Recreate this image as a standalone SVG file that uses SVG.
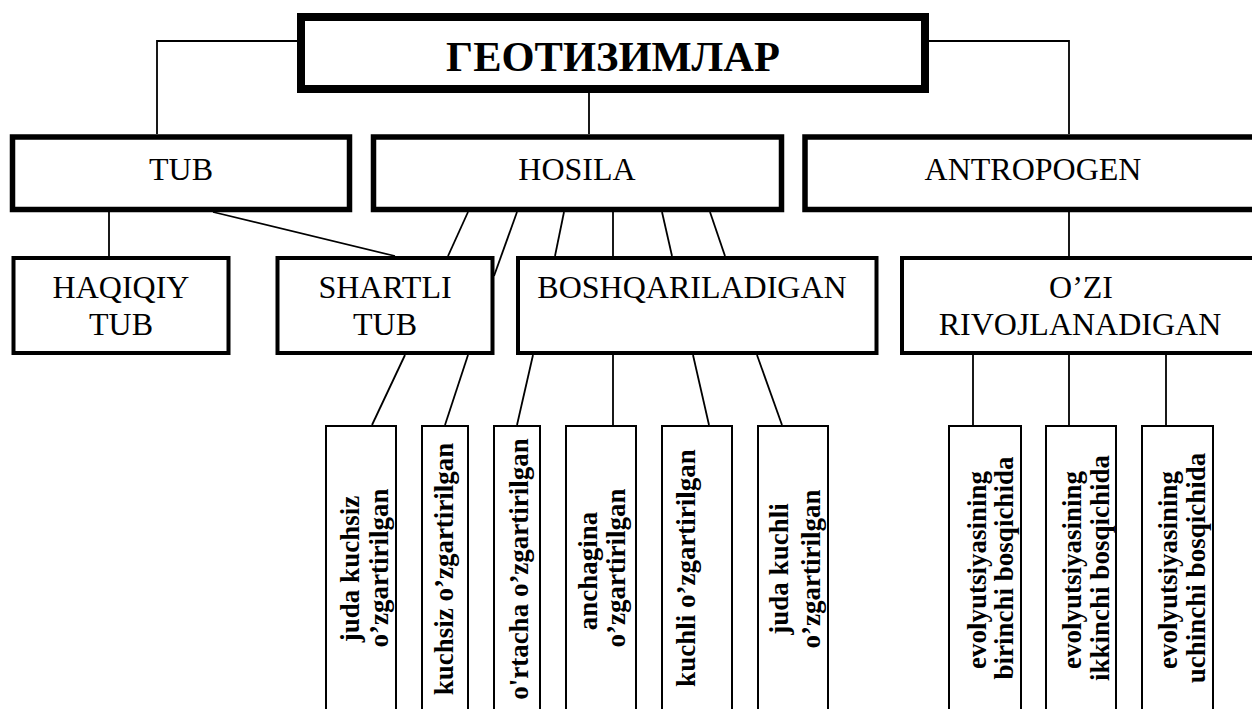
<svg xmlns="http://www.w3.org/2000/svg" width="1252" height="709" viewBox="0 0 1252 709">
<style>
.b{fill:#fff;stroke:#000}
.t1{stroke-width:8}
.t2{stroke-width:5.5}
.t3{stroke-width:4}
.t4{stroke-width:2}
.c line,.c polyline{stroke:#000;stroke-width:1.8;fill:none}
.r{font-family:"Liberation Serif","Times New Roman",serif;font-size:32px;text-anchor:middle;fill:#000}
.v{font-family:"Liberation Serif","Times New Roman",serif;font-size:27px;font-weight:bold;text-anchor:middle;fill:#000}
.h{font-family:"Liberation Serif","Times New Roman",serif;font-size:42.5px;font-weight:bold;text-anchor:middle;fill:#000}
</style>
<rect width="1252" height="709" fill="#fff"/>
<g class="c" id="connectors">
<polyline points="297,41 157,41 157,134"/>
<polyline points="929,41 1069,41 1069,134"/>
<line x1="589" y1="93" x2="589" y2="134"/>
<line x1="109" y1="212" x2="109" y2="256"/>
<line x1="213" y1="212" x2="395" y2="256"/>
<line x1="468" y1="212" x2="448" y2="256"/>
<line x1="517" y1="212" x2="494" y2="276"/>
<line x1="564" y1="212" x2="555" y2="256"/>
<line x1="613" y1="212" x2="613" y2="256"/>
<line x1="662" y1="212" x2="672" y2="256"/>
<line x1="710" y1="212" x2="725" y2="256"/>
<line x1="1069" y1="212" x2="1069" y2="256"/>
<line x1="405" y1="355" x2="372" y2="425"/>
<line x1="468" y1="355" x2="445" y2="425"/>
<line x1="533" y1="355" x2="517" y2="425"/>
<line x1="613" y1="355" x2="613" y2="425"/>
<line x1="693" y1="355" x2="709" y2="425"/>
<line x1="757" y1="355" x2="782" y2="425"/>
<line x1="973" y1="355" x2="973" y2="425"/>
<line x1="1069" y1="355" x2="1069" y2="425"/>
<line x1="1166" y1="355" x2="1166" y2="425"/>
</g>
<g id="geotizimlar">
<rect class="b t1" x="301" y="17" width="624" height="72"/>
<text class="h" x="613" y="71">ГЕОТИЗИМЛАР</text>
</g>
<g id="tub">
<rect class="b t2" x="12.5" y="137" width="337" height="72.5"/>
<text class="r" x="181" y="180">TUB</text>
</g>
<g id="hosila">
<rect class="b t2" x="373.5" y="137" width="408" height="72.5"/>
<text class="r" x="577" y="180">HOSILA</text>
</g>
<g id="antropogen">
<rect class="b t2" x="805" y="137" width="460" height="72.5"/>
<text class="r" x="1033" y="180">ANTROPOGEN</text>
</g>
<g id="haqiqiy">
<rect class="b t3" x="13.5" y="258" width="215" height="95"/>
<text class="r" x="121" y="298">HAQIQIY</text>
<text class="r" x="121" y="335">TUB</text>
</g>
<g id="shartli">
<rect class="b t3" x="277.5" y="258" width="215" height="95"/>
<text class="r" x="385" y="298">SHARTLI</text>
<text class="r" x="385" y="335">TUB</text>
</g>
<g id="boshqariladigan">
<rect class="b t3" x="518" y="258" width="358.5" height="95"/>
<text class="r" x="692" y="298">BOSHQARILADIGAN</text>
</g>
<g id="ozi">
<rect class="b t3" x="902" y="258" width="370" height="95"/>
<text class="r" x="1081" y="298">O’ZI</text>
<text class="r" x="1080" y="335">RIVOJLANADIGAN</text>
</g>
<g id="v1">
<rect class="b t4" x="326" y="426" width="70" height="300"/>
<text class="v" transform="translate(359,569) rotate(-90)">juda kuchsiz</text>
<text class="v" transform="translate(388,568) rotate(-90)">o’zgartirilgan</text>
</g>
<g id="v2">
<rect class="b t4" x="422" y="426" width="46" height="300"/>
<text class="v" transform="translate(453,569) rotate(-90)">kuchsiz o’zgartirilgan</text>
</g>
<g id="v3">
<rect class="b t4" x="494" y="426" width="46" height="300"/>
<text class="v" transform="translate(528,569) rotate(-90)">o'rtacha o’zgartirilgan</text>
</g>
<g id="v4">
<rect class="b t4" x="566" y="426" width="70" height="300"/>
<text class="v" transform="translate(597,571) rotate(-90)">anchagina</text>
<text class="v" transform="translate(625,568) rotate(-90)">o’zgartirilgan</text>
</g>
<g id="v5">
<rect class="b t4" x="662" y="426" width="70" height="300"/>
<text class="v" transform="translate(695,568) rotate(-90)">kuchli o’zgartirilgan</text>
</g>
<g id="v6">
<rect class="b t4" x="758" y="426" width="70" height="300"/>
<text class="v" transform="translate(788,569) rotate(-90)">juda kuchli</text>
<text class="v" transform="translate(820,569) rotate(-90)">o’zgartirilgan</text>
</g>
<g id="e1">
<rect class="b t4" x="949" y="426" width="72" height="300"/>
<text class="v" transform="translate(986,570) rotate(-90)">evolyutsiyasining</text>
<text class="v" transform="translate(1013,568) rotate(-90)">birinchi bosqichida</text>
</g>
<g id="e2">
<rect class="b t4" x="1046" y="426" width="70" height="300"/>
<text class="v" transform="translate(1081,570) rotate(-90)">evolyutsiyasining</text>
<text class="v" transform="translate(1109,568) rotate(-90)">ikkinchi bosqichida</text>
</g>
<g id="e3">
<rect class="b t4" x="1142" y="426" width="71" height="300"/>
<text class="v" transform="translate(1177,570) rotate(-90)">evolyutsiyasining</text>
<text class="v" transform="translate(1205,568) rotate(-90)">uchinchi bosqichida</text>
</g>
</svg>
